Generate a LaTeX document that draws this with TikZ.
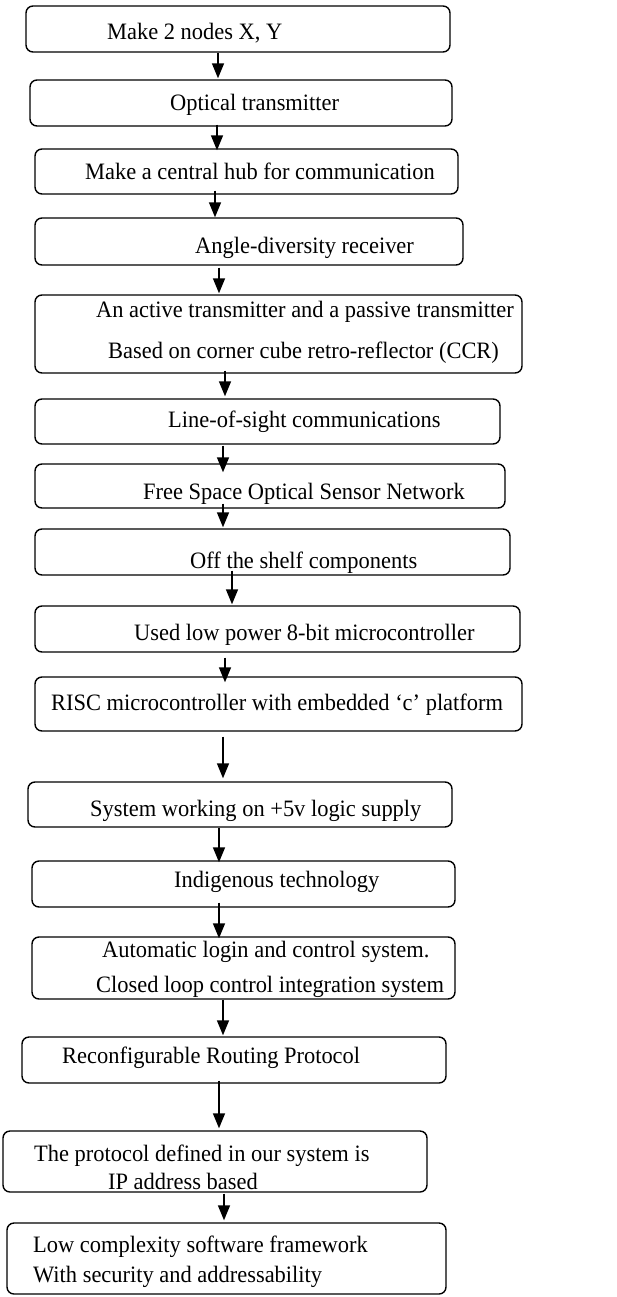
\documentclass[tikz,border=0pt]{standalone}
\usepackage{fontspec}
\setmainfont{Liberation Serif}[FakeStretch=0.955]
\usetikzlibrary{arrows.meta}
\tikzset{
  box/.style={draw, line width=1.4pt, rounded corners=7pt},
  txt/.style={anchor=base west, inner sep=0pt, font=\fontsize{23.5}{28}\selectfont},
  arr/.style={line width=1.5pt, -{Triangle[length=15pt,width=12pt]}},
}
% draw a box from its corner coordinates as a named node
\newcommand{\flowbox}[5]{%
  \node[box, minimum width={(#4-#2)*1pt}, minimum height={(#5-#3)*1pt}, inner sep=0pt]
    (#1) at ({(#2+#4)/2},{(#3+#5)/2}) {};}
\begin{document}
\begin{tikzpicture}[x=1pt, y=-1pt]
\useasboundingbox (0,0) rectangle (616,1297);

% boxes
\flowbox{b1}{26}{6}{450}{52}
\flowbox{b2}{30}{80}{452}{126}
\flowbox{b3}{35}{149}{458}{194}
\flowbox{b4}{35}{218}{463}{265}
\flowbox{b5}{35}{295}{522}{373}
\flowbox{b6}{35}{399}{500}{444}
\flowbox{b7}{35}{464}{505}{508}
\flowbox{b8}{35}{529}{510}{575}
\flowbox{b9}{35}{606}{520}{652}
\flowbox{b10}{35}{677}{522}{731}
\flowbox{b11}{28}{782}{452}{827}
\flowbox{b12}{32}{861}{455}{907}
\flowbox{b13}{32}{937}{455}{999}
\flowbox{b14}{22}{1037}{446}{1083}
\flowbox{b15}{3}{1131}{427}{1192}
\flowbox{b16}{7}{1223}{446}{1294}

% texts
\node[txt] (t1) at (107,40) {Make 2 nodes X, Y};
\node[txt] (t2) at (170,111) {Optical transmitter};
\node[txt] (t3) at (85,180) {Make a central hub for communication};
\node[txt] (t4) at (195,253) {Angle-diversity receiver};
\node[txt] (t5a) at (96,317) {An active transmitter and a passive transmitter};
\node[txt] (t5b) at (108,358) {Based on corner cube retro-reflector (CCR)};
\node[txt] (t6) at (168,427) {Line-of-sight communications};
\node[txt] (t7) at (143,499) {Free Space Optical Sensor Network};
\node[txt] (t8) at (190,568) {Off the shelf components};
\node[txt] (t9) at (134,640) {Used low power 8-bit microcontroller};
\node[txt] (t10) at (51,710) {RISC microcontroller with embedded ‘c’ platform};
\node[txt] (t11) at (90,816) {System working on +5v logic supply};
\node[txt] (t12) at (174,887) {Indigenous technology};
\node[txt] (t13a) at (102,957) {Automatic login and control system.};
\node[txt] (t13b) at (96,992) {Closed loop control integration system};
\node[txt] (t14) at (62,1063) {Reconfigurable Routing Protocol};
\node[txt] (t15a) at (34,1161) {The protocol defined in our system is};
\node[txt] (t15b) at (108,1189) {IP address based};
\node[txt] (t16a) at (33,1252) {Low complexity software framework};
\node[txt] (t16b) at (33,1282) {With security and addressability};

% connectors: x position of each arrow, start and end offsets
\foreach \a/\b/\x/\ya/\yb in {
  b1/b2/218/0/-1, b2/b3/217/-2/2, b3/b4/215/-4/0, b4/b5/219/2/-1,
  b5/b6/225/-3/-2, b6/b7/223/1/9, b7/b8/223/-5/-1, b8/b9/232/-5/-1,
  b9/b10/225/5/6, b10/b11/223/5/-3, b11/b12/219/0/2, b12/b13/219/-5/2,
  b13/b14/223/0/-1, b14/b15/219/-3/-2, b15/b16/224/1/-2} {
  \coordinate (cx) at (\x,0);
  \draw[arr] ([yshift=-\ya pt]\a.south -| cx) -- ([yshift=-\yb pt]\b.north -| cx);
}
\end{tikzpicture}
\end{document}
